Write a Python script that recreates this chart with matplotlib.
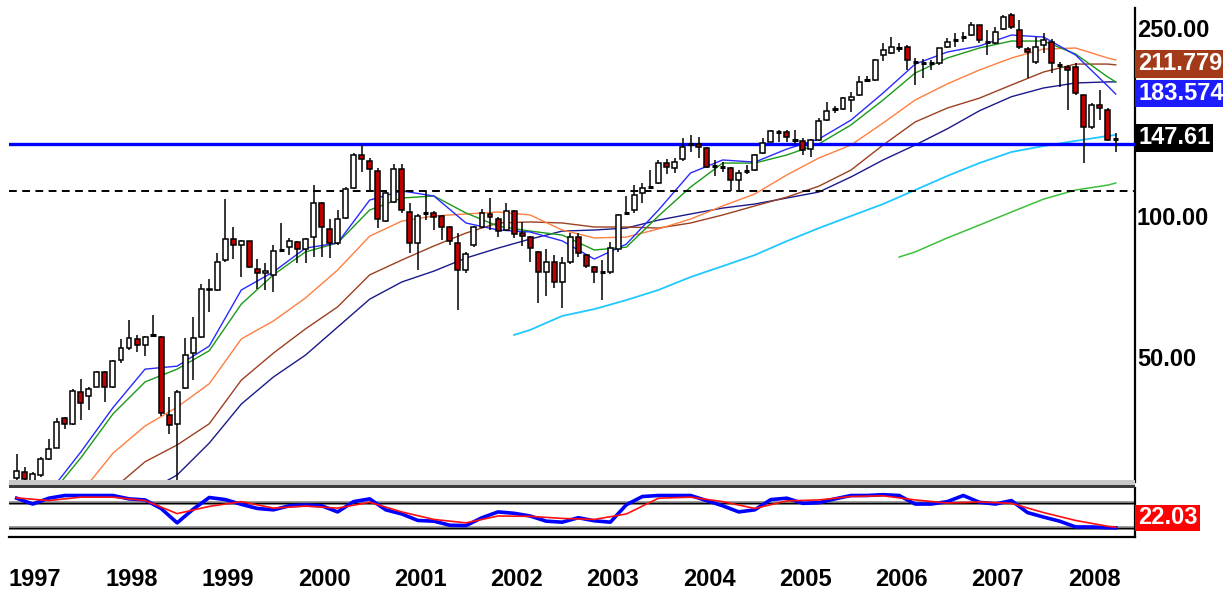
import numpy as np
import matplotlib
matplotlib.use('agg')
import matplotlib.pyplot as plt  # noqa
from matplotlib import transforms
from matplotlib.patches import Rectangle

W, H = 1223, 591
plt.rcParams['font.family'] = ['Liberation Sans', 'DejaVu Sans']

# monthly bars, Nov 1996 .. Apr 2008
opens = [28.0, 28.8, 27.5, 28.4, 30.7, 32.4, 37.5, 36.4, 42.7, 41.9,
         43.7, 47.0, 43.7, 49.9, 52.9, 55.3, 53.6, 56.5, 55.7, 38.1,
         36.4, 43.5, 51.6, 55.9, 70.3, 70.3, 81.4, 90.2, 87.6, 89.2,
         77.9, 76.5, 75.7, 85.6, 86.7, 89.0, 85.9, 91.1, 107.6, 94.8,
         88.5, 100.0, 115.8, 136.2, 132.3, 125.9, 98.5, 108.1, 127.1, 103.0,
         88.5, 102.7, 102.5, 101.0, 95.7, 88.5, 77.5, 87.6, 95.7, 102.0,
         99.5, 94.3, 103.5, 93.0, 91.1, 84.6, 76.7, 80.6, 73.1, 80.6,
         91.1, 83.4, 78.6, 76.7, 76.7, 85.9, 102.7, 104.0, 113.0, 116.7,
         118.7, 130.8, 127.5, 133.6, 143.5, 144.0, 140.9, 129.3, 128.2, 127.8,
         120.5, 126.2, 126.5, 137.5, 145.2, 152.3, 152.3, 146.3, 145.9, 140.1,
         146.6, 161.6, 170.2, 170.5, 178.0, 183.0, 197.0, 196.6, 222.2, 224.4,
         230.0, 231.2, 214.7, 213.7, 213.7, 213.7, 231.2, 239.2, 242.7, 245.1,
         257.4, 236.9, 235.7, 252.4, 270.3, 251.2, 229.0, 214.7, 233.4, 236.9,
         211.6, 209.5, 209.5, 182.7, 156.2, 174.0, 169.7, 147.61]
highs = [31.5, 29.5, 28.8, 31.0, 33.9, 37.6, 37.7, 43.3, 45.4, 43.7,
         47.3, 47.3, 50.0, 55.3, 60.7, 56.4, 56.0, 62.2, 56.0, 41.6,
         43.0, 55.5, 61.6, 72.4, 74.1, 84.2, 109.8, 95.7, 89.8, 89.5,
         81.8, 80.2, 87.6, 97.6, 90.6, 89.5, 90.6, 117.5, 108.0, 99.5,
         104.0, 116.4, 137.5, 143.0, 134.0, 128.0, 114.0, 130.2, 130.2, 107.6,
         102.0, 114.0, 103.5, 101.5, 96.2, 92.9, 84.6, 96.2, 104.5, 110.2,
         100.5, 107.6, 104.0, 98.0, 91.5, 85.0, 85.9, 83.4, 82.6, 92.9,
         92.9, 84.0, 79.0, 81.4, 88.9, 102.0, 111.3, 117.5, 118.7, 126.5,
         132.9, 133.6, 134.3, 148.0, 150.2, 148.7, 141.6, 132.9, 131.4, 128.4,
         126.5, 129.6, 136.9, 148.0, 153.9, 153.9, 153.9, 153.9, 148.0, 147.3,
         163.3, 176.5, 173.0, 180.5, 185.0, 200.7, 200.7, 217.9, 235.7, 242.7,
         235.7, 233.0, 219.0, 217.9, 216.9, 230.5, 241.5, 247.5, 248.7, 261.2,
         258.0, 251.2, 254.9, 270.3, 273.0, 263.8, 231.2, 242.7, 247.5, 240.0,
         214.7, 211.6, 213.7, 183.0, 176.0, 187.2, 171.4, 151.7]
lows = [27.0, 27.0, 27.0, 28.1, 30.6, 32.4, 35.6, 36.2, 37.2, 39.0,
        43.6, 40.6, 43.5, 49.2, 52.4, 51.9, 50.9, 55.9, 38.0, 34.7,
        26.0, 43.3, 45.2, 55.5, 63.0, 69.9, 80.6, 82.0, 74.9, 78.3,
        70.6, 70.3, 69.6, 84.6, 83.4, 80.2, 80.2, 82.6, 82.6, 82.2,
        87.6, 99.5, 115.3, 125.3, 114.7, 95.2, 98.0, 107.6, 102.5, 84.2,
        77.5, 99.0, 94.3, 89.8, 87.6, 63.7, 76.4, 86.7, 95.2, 94.3,
        91.1, 93.8, 90.6, 87.0, 80.6, 65.9, 68.3, 70.9, 64.3, 80.0,
        82.6, 78.3, 72.7, 66.9, 76.0, 84.6, 102.0, 102.5, 107.6, 115.8,
        118.0, 124.0, 124.7, 132.0, 138.0, 134.3, 127.8, 123.0, 125.3, 114.2,
        114.7, 124.0, 126.0, 137.0, 145.0, 145.2, 145.2, 144.0, 136.2, 134.9,
        146.0, 160.8, 167.0, 170.0, 168.0, 182.0, 195.5, 195.5, 216.0, 223.0,
        225.5, 206.5, 191.9, 198.6, 206.5, 211.6, 230.0, 231.2, 236.9, 244.0,
        235.7, 222.2, 235.0, 251.0, 253.0, 229.0, 198.6, 213.0, 224.4, 203.5,
        190.0, 169.7, 183.0, 130.9, 155.0, 161.6, 146.0, 138.2]
closes = [29.0, 27.8, 28.5, 30.7, 32.3, 36.9, 36.4, 42.9, 40.4, 43.3,
          47.0, 43.7, 49.7, 52.9, 55.5, 53.6, 55.7, 56.5, 38.5, 36.2,
          42.7, 51.1, 55.5, 70.6, 70.8, 80.6, 90.2, 87.6, 89.2, 78.6,
          76.4, 77.0, 85.0, 85.6, 89.5, 85.9, 90.2, 107.6, 95.7, 88.5,
          99.5, 115.3, 136.2, 133.5, 127.1, 99.5, 113.0, 127.1, 104.0, 88.5,
          101.0, 102.7, 100.5, 95.7, 89.3, 77.5, 83.8, 95.7, 102.5, 100.5,
          93.8, 103.5, 92.5, 91.5, 86.3, 76.7, 80.6, 73.1, 80.2, 91.1,
          84.2, 79.1, 76.7, 76.7, 86.3, 101.5, 102.7, 111.9, 115.8, 116.7,
          130.8, 128.4, 131.5, 141.6, 143.5, 141.6, 128.4, 129.3, 128.2, 120.5,
          124.7, 126.2, 136.2, 144.4, 153.1, 152.3, 148.7, 146.3, 139.5, 146.6,
          160.8, 168.8, 170.2, 180.2, 181.0, 194.6, 197.0, 216.9, 228.0, 231.2,
          230.0, 216.9, 214.7, 213.7, 213.7, 230.0, 236.9, 239.2, 242.7, 257.4,
          239.2, 236.9, 248.7, 267.7, 254.9, 231.2, 225.5, 231.2, 239.2, 213.7,
          211.6, 206.5, 184.5, 156.2, 174.0, 171.4, 146.6, 147.61]

years = list(range(1997, 2009))
jan_1997 = 2  # bar index of Jan 1997

support_level = 143.7
dashed_level = 114.4

# moving averages (None = not drawn / below the panel)
ma_months = list(range(4, 137, 4)) + [137]
ma_blue = [26.0, 31.8, 39.5, 47.7, 48.4, 53.4, 70.3, 76.8, 86.3, 88.5,
           109.2, 114.2, 111.4, 97.6, 94.3, 93.4, 89.4, 81.8, 88.0, 104.0,
           124.7, 132.9, 131.5, 140.2, 147.3, 161.6, 184.5, 212.6, 225.5, 232.3,
           245.1, 242.7, 222.2, 190.9, 183.574]
ma_green = [25.5, 30.9, 38.3, 44.8, 47.7, 52.2, 65.6, 75.7, 84.7, 88.5,
            104.0, 110.3, 111.4, 102.5, 96.1, 93.8, 92.0, 85.5, 86.7, 101.0,
            116.4, 130.9, 130.9, 136.2, 143.8, 157.8, 178.3, 203.5, 219.0, 230.0,
            238.0, 238.0, 223.3, 199.6, 194.8]
ma_orange = [None, 26.0, 31.6, 36.1, 39.6, 44.4, 55.3, 60.4, 67.6, 77.5,
             91.5, 98.5, 101.0, 102.0, 103.0, 101.5, 94.3, 90.7, 91.1, 94.8,
             99.5, 106.1, 112.5, 123.5, 134.2, 143.0, 159.3, 178.3, 192.9, 206.5,
             219.0, 228.8, 230.0, 219.0, 216.9]
ma_brown = [None, None, 26.5, 30.3, 32.9, 36.5, 45.2, 51.6, 58.1, 64.7,
            75.7, 81.4, 87.2, 92.9, 97.6, 98.1, 97.6, 95.7, 95.7, 95.2,
            97.6, 101.5, 106.1, 110.8, 116.9, 126.5, 143.0, 160.1, 171.4, 179.9,
            191.9, 204.5, 212.6, 212.6, 211.779]
ma_navy = [None, None, None, 26.0, 28.4, 33.2, 40.2, 45.9, 51.1, 58.6,
           67.2, 73.1, 77.1, 82.2, 86.3, 90.2, 93.8, 94.3, 95.2, 99.0,
           102.0, 105.0, 107.1, 110.3, 113.6, 122.3, 132.9, 143.0, 154.8, 169.1,
           181.2, 189.1, 193.8, 194.8, 194.8]
cyan_months = [62, 64, 68, 72, 76, 80, 84, 88, 92, 96, 100,
               104, 108, 112, 116, 120, 124, 128, 132, 136, 137]
ma_cyan = [56.4, 57.8, 61.9, 64.0, 66.9, 70.3, 74.9, 79.0, 83.4, 89.3, 95.2,
           101.0, 107.1, 114.7, 122.9, 130.9, 138.2, 142.3, 145.9, 149.5, 150.2]
lgreen_months = [110, 112, 116, 120, 124, 128, 132, 136, 137]
ma_lgreen = [82.6, 84.7, 90.7, 96.6, 103.0, 109.7, 114.7, 117.5, 118.7]

# oscillator panel
osc_k_months = list(range(0, 137, 2)) + [137]
osc_k = [91.5, 77.5, 91.5, 98, 98, 98, 98, 89.9, 87.4, 66.8,
         32.3, 65.2, 93.2, 88.2, 76.7, 66.9, 63.6, 73.4, 75.1, 73.4,
         58.6, 83.3, 89.9, 63.6, 53.7, 38.1, 36.4, 26.6, 25.8, 44.7,
         58.6, 55.3, 48.8, 36.4, 34, 44.7, 37.3, 34, 75.9, 95.6,
         98, 98, 98, 85.8, 73.4, 58.6, 63.6, 88.2, 91.5, 79.2,
         80.8, 89.9, 98, 98, 100, 98, 77.5, 77.5, 83.3, 98,
         81.7, 77.5, 85.8, 57, 46.3, 36.4, 22.5, 22.5, 20.8, 20.5]
osc_d_months = list(range(0, 137, 4)) + [137]
osc_d = [92.3, 85.8, 94, 94, 85.8, 54.5, 71.8, 83.3, 67.7, 72.6,
         67.7, 81.7, 58.6, 40.6, 32.3, 48.8, 48, 43, 40.6, 53.7,
         91.5, 94, 83.3, 66.9, 85, 87.4, 95.6, 97.2, 87.4, 80,
         82.5, 79.2, 57, 38.1, 24.1, 22.03]


def px_box(x0, y0, x1, y1):
    # pixel rectangle (top-left origin) -> figure fraction
    return [x0 / W, 1 - y1 / H, (x1 - x0) / W, (y1 - y0) / H]


def add_rect(x0, y0, x1, y1, color, z=1):
    fig.patches.append(Rectangle((x0 / W, 1 - y1 / H), (x1 - x0) / W,
                                 (y1 - y0) / H, transform=fig.transFigure,
                                 facecolor=color, edgecolor='none', zorder=z))


fig = plt.figure(figsize=(W / 100, H / 100), dpi=100)
fig.patch.set_facecolor('white')

xlim = (-0.96, 139.4)

"""
--- PRICE PANEL
"""
ax = fig.add_axes(px_box(9, 8, 1135, 482))
ax.set_yscale('log')
ax.set_ylim(27.44, 279.8)
ax.set_xlim(*xlim)
for s in ('left', 'top', 'bottom'):
    ax.spines[s].set_visible(False)
ax.spines['right'].set_linewidth(1.6)
ax.set_xticks([])
ax.set_yticks([])
ax.minorticks_off()


def ma_line(months, vals, color, lw):
    m = [mm for mm, v in zip(months, vals) if v is not None]
    v = [v for v in vals if v is not None]
    ax.plot(m, v, color=color, lw=lw, zorder=2)


ma_line(ma_months, ma_navy, '#1a1a8c', 1.0)
ma_line(ma_months, ma_brown, '#9c4020', 1.0)
ma_line(ma_months, ma_orange, '#ff7f40', 1.0)
ma_line(ma_months, ma_green, '#1a9a1a', 1.0)
ma_line(ma_months, ma_blue, '#2a2aff', 1.0)
ma_line(cyan_months, ma_cyan, '#20c8ff', 1.3)
ma_line(lgreen_months, ma_lgreen, '#3cc03c', 1.1)

ax.axhline(support_level, color='#0000ff', lw=2.4, zorder=3)
ax.axhline(dashed_level, color='black', lw=1.4, ls=(0, (4, 2.8)), zorder=3)

idx = np.arange(len(closes))
o = np.array(opens)
c = np.array(closes)
h = np.array(highs)
lo = np.array(lows)
doji = np.abs(c - o) < 0.003 * o
up = (c > o) & ~doji
dn = (c < o) & ~doji
ax.vlines(idx, lo, h, color='black', lw=1.1, zorder=4)
ax.bar(idx[up], (c - o)[up], bottom=o[up], width=0.62, facecolor='white',
       edgecolor='black', lw=1.1, zorder=5)
ax.bar(idx[dn], (o - c)[dn], bottom=c[dn], width=0.62, facecolor='#c00000',
       edgecolor='black', lw=1.1, zorder=5)
ax.hlines(c[doji], idx[doji] - 0.33, idx[doji] + 0.33, color='black',
          lw=2.2, zorder=5)

# right-hand price scale
ytr = transforms.blended_transform_factory(fig.transFigure, ax.transData)
for val, lab in [(250, '250.00'), (100, '100.00'), (50, '50.00')]:
    ax.text(1137 / W, val, lab, transform=ytr, ha='left', va='center',
            fontsize=17, fontweight='bold', color='black', clip_on=False)

# value boxes
add_rect(1135, 50, 1223, 78, '#a33b1b')
add_rect(1135, 80, 1223, 107, '#1c1cff')
add_rect(1135, 124, 1213, 152, 'black')
add_rect(1135, 505, 1200, 531, '#ff0000')
for y, lab in [(64, '211.779'), (93.5, '183.574'), (138, '147.61'),
               (518, '22.03')]:
    fig.text(1138 / W, 1 - y / H, lab, ha='left', va='center', fontsize=17,
             fontweight='bold', color='white', zorder=3)

# separator between panels
add_rect(9, 480, 1135, 484.5, '#c8c8c8')
add_rect(9, 484.5, 1135, 488, '#3c3c3c')

"""
--- OSCILLATOR PANEL
"""
ax2 = fig.add_axes(px_box(9, 488, 1135, 537))
ax2.set_xlim(*xlim)
ax2.set_ylim(-1.6, 116)
ax2.set_xticks([])
ax2.set_yticks([])
ax2.spines['left'].set_visible(False)
ax2.spines['top'].set_visible(False)
ax2.spines['bottom'].set_linewidth(1.6)
ax2.spines['right'].set_linewidth(1.6)
for lvl in (20, 80):
    ax2.axhline(lvl, color='#9a9a9a', lw=2.8)
    ax2.axhline(lvl, color='black', lw=1.0)
ax2.plot(osc_k_months, osc_k, color='#0000ff', lw=2.6)
ax2.plot(osc_d_months, osc_d, color='#ff1010', lw=1.2)

xtr = transforms.blended_transform_factory(ax2.transData, fig.transFigure)
for k, yr in enumerate(years):
    fig.text(jan_1997 + 12 * k + 0.3, 1 - 580 / H, str(yr), transform=xtr,
             ha='center', va='center', fontsize=17, fontweight='bold')

fig.savefig('out.png', dpi=100)
